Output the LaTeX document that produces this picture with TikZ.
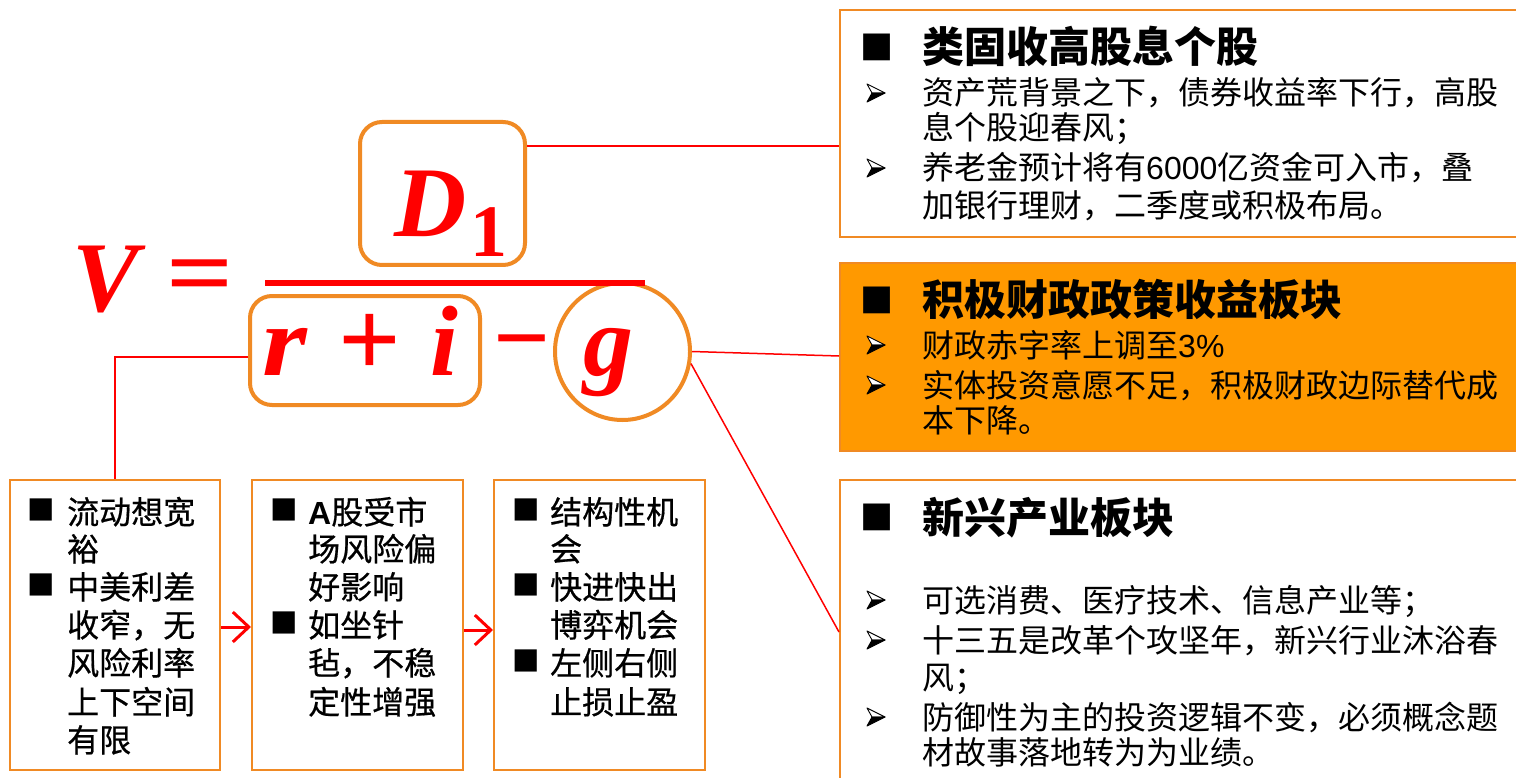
\documentclass[tikz,border=0pt]{standalone}
\usepackage{fontspec}
\usepackage{graphicx}
\setmainfont{Liberation Sans}
\newfontfamily\cjk{Noto Sans CJK SC}
\newfontfamily\cjkm[FakeBold=0.6]{Noto Sans CJK SC}
\newfontfamily\arial{Liberation Sans}
\newfontfamily\dvs{DejaVu Sans}
\newfontfamily\mfont{Liberation Serif}
\usetikzlibrary{shapes.geometric,arrows.meta,calc}
\definecolor{bord}{HTML}{F08A24}
\definecolor{fillor}{HTML}{FF9900}
\definecolor{fred}{HTML}{FF0000}
\tikzset{
  rbox/.style={draw=bord,line width=4pt,rounded corners=22pt,inner sep=0pt},
  pbox/.style={draw=bord,line width=2pt,inner sep=0pt},
  conn/.style={draw=fred,line width=1.5pt},
  arr/.style={draw=fred,line width=3pt,-{Straight Barb[length=16pt,width=30pt,line width=3pt]}},
  mtxt/.style={text=fred,inner sep=0pt,font=\mfont\bfseries\itshape\fontsize{100}{100}\selectfont},
  mup/.style={text=fred,inner sep=0pt,font=\mfont\bfseries\fontsize{100}{100}\selectfont},
  ln/.style={anchor=west,inner sep=0pt,text height=28pt,text depth=4pt,font=\cjk\fontsize{32}{32}\selectfont},
  bl/.style={anchor=west,inner sep=0pt,text height=28pt,text depth=4pt,font=\cjkm\fontsize{32}{32}\selectfont},
  hd/.style={anchor=west,inner sep=0pt,text height=37pt,text depth=5pt,font=\cjk\bfseries\fontsize{42}{42}\selectfont},
  sqh/.style={anchor=center,inner sep=0pt,font=\dvs\fontsize{35}{35}\selectfont},
  sqb/.style={anchor=center,inner sep=0pt,font=\dvs\fontsize{29}{29}\selectfont},
  pics/arrbul/.style={code={
    \filldraw[fill=white,draw=black,line width=0.9pt,line join=round] (-8,-9) -- (10,0) -- (-3,0) -- cycle;
    \filldraw[fill=black,draw=black,line width=0.9pt,line join=round] (-3,0) -- (10,0) -- (-8,9) -- cycle;
  }},
}
\begin{document}
\begin{tikzpicture}[x=1pt,y=-1pt]
\useasboundingbox (0,0) rectangle (1516,778);
\fill[white] (0,0) rectangle (1516,778);

% right boxes
\node[pbox,fill=white,minimum width=690pt,minimum height=227pt] (b1) at (1185,123.5) {};
\node[pbox,fill=fillor,minimum width=690pt,minimum height=188pt] (b2) at (1185,357) {};
\node[pbox,fill=white,minimum width=690pt,minimum height=320pt] (b3) at (1185,640) {};

% bottom boxes
\node[pbox,minimum width=210pt,minimum height=290pt] (ba) at (115,625) {};
\node[pbox,minimum width=211pt,minimum height=290pt] (bb) at (357.5,625) {};
\node[pbox,minimum width=211pt,minimum height=290pt] (bc) at (599.5,625) {};

% formula frames
\node[rbox,minimum width=165pt,minimum height=143pt] (d1) at (442.5,193.5) {};
\node[rbox,minimum width=230pt,minimum height=109pt] (ri) at (365,350.5) {};
\node[draw=bord,line width=4pt,ellipse,inner sep=0pt,minimum width=135pt,minimum height=137pt] (g) at (622.5,351.5) {};

% formula
\node[mtxt,anchor=base west] (tV) at (72,312) {V};
\node[mup,anchor=base west] (teq) at (166,306) {\scalebox{1.18}[1]{=}};
\fill[fred] (265,280) rectangle (645,286);
\node[mtxt,anchor=base west] (tD) at (394,237) {D};
\node[mup,anchor=base west,font=\mfont\bfseries\fontsize{74}{74}\selectfont] (t1) at (470,257) {1};
\node[mtxt,anchor=base west] (tr) at (262,375) {\scalebox{1.15}[1]{r}};
\node[mup,anchor=base west,font=\mfont\bfseries\fontsize{110}{110}\selectfont] (tp) at (338,376) {+};
\node[mtxt,anchor=base west] (ti) at (430,375) {i};
\node[mup,anchor=base west] (tm) at (493,371) {−};
\node[mtxt,anchor=base west] (tg) at (583,375) {g};

% connectors
\draw[conn] (d1.east |- 0,146) -- (b1.west |- 0,146);
\draw[conn] (g.east) -- (b2.west |- 0,356);
\draw[conn] (g.-10) -- (b3.west |- 0,632);
\draw[conn] (ri.west |- 0,357) -| (ba.north);
\draw[arr] (ba.east |- 0,627) -- (bb.west |- 0,627);
\draw[arr] (bb.east |- 0,630) -- (bc.west |- 0,630);

% box 1 text
\node[sqh] (s1) at (877,47) {■};
\node[hd] (h1) at (922,47) {类固收高股息个股};
\pic at (875,93) {arrbul};
\node[ln] (l11) at (922,93) {资产荒背景之下，债券收益率下行，高股};
\node[ln] (l12) at (922,128) {息个股迎春风；};
\pic at (875,168) {arrbul};
\node[ln] (l13) at (922,168) {养老金预计将有{\arial 6000}亿资金可入市，叠};
\node[ln] (l14) at (922,206) {加银行理财，二季度或积极布局。};

% box 2 text
\node[sqh] (s2) at (877,300) {■};
\node[hd] (h2) at (922,300) {积极财政政策收益板块};
\pic at (875,345) {arrbul};
\node[ln] (l21) at (922,345) {财政赤字率上调至{\arial 3\%}};
\pic at (875,385) {arrbul};
\node[ln] (l22) at (922,385) {实体投资意愿不足，积极财政边际替代成};
\node[ln] (l23) at (922,420) {本下降。};

% box 3 text
\node[sqh] (s3) at (877,517) {■};
\node[hd] (h3) at (922,517) {新兴产业板块};
\pic at (875,600) {arrbul};
\node[ln] (l31) at (922,600) {可选消费、医疗技术、信息产业等；};
\pic at (875,640) {arrbul};
\node[ln] (l32) at (922,640) {十三五是改革个攻坚年，新兴行业沐浴春};
\node[ln] (l33) at (922,677) {风；};
\pic at (875,717) {arrbul};
\node[ln] (l34) at (922,717) {防御性为主的投资逻辑不变，必须概念题};
\node[ln] (l35) at (922,752) {材故事落地转为为业绩。};

% bottom box A
\node[sqb] (sa1) at (41,510) {■};
\node[bl] (la1) at (67,512) {流动想宽};
\node[bl] (la2) at (67,549) {裕};
\node[sqb] (sa2) at (41,585) {■};
\node[bl] (la3) at (67,587) {中美利差};
\node[bl] (la4) at (67,625) {收窄，无};
\node[bl] (la5) at (67,663) {风险利率};
\node[bl] (la6) at (67,702) {上下空间};
\node[bl] (la7) at (67,740) {有限};

% bottom box B
\node[sqb] (sb1) at (284,510) {■};
\node[bl] (lb1) at (308,512) {{\arial\bfseries A}股受市};
\node[bl] (lb2) at (308,549) {场风险偏};
\node[bl] (lb3) at (308,587) {好影响};
\node[sqb] (sb2) at (284,623) {■};
\node[bl] (lb4) at (308,625) {如坐针};
\node[bl] (lb5) at (308,663) {毡，不稳};
\node[bl] (lb6) at (308,702) {定性增强};

% bottom box C
\node[sqb] (sc1) at (526,510) {■};
\node[bl] (lc1) at (550,512) {结构性机};
\node[bl] (lc2) at (550,549) {会};
\node[sqb] (sc2) at (526,585) {■};
\node[bl] (lc3) at (550,587) {快进快出};
\node[bl] (lc4) at (550,625) {博弈机会};
\node[sqb] (sc3) at (526,661) {■};
\node[bl] (lc5) at (550,663) {左侧右侧};
\node[bl] (lc6) at (550,702) {止损止盈};
\end{tikzpicture}
\end{document}
